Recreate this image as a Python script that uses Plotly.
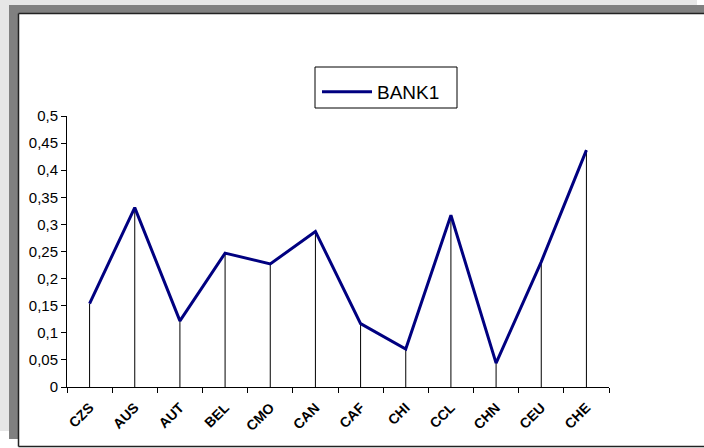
import plotly.graph_objects as go

# Series data
categories = ["CZS", "AUS", "AUT", "BEL", "CMO", "CAN", "CAF", "CHI", "CCL", "CHN", "CEU", "CHE"]
bank1 = [0.154, 0.331, 0.122, 0.247, 0.227, 0.287, 0.117, 0.070, 0.317, 0.044, 0.231, 0.437]
y_ticks = [0, 0.05, 0.1, 0.15, 0.2, 0.25, 0.3, 0.35, 0.4, 0.45, 0.5]

W, H = 704, 448
# plot-area box in pixels
L, R, T, B = 67, 609, 116, 387


def px(x):
    return (x - L) / (R - L)


def py(y):
    return (B - y) / (B - T)


# drop lines from each point down to the axis
drop_x, drop_y = [], []
for c, v in zip(categories, bank1):
    drop_x += [c, c, None]
    drop_y += [0, v, None]

fig = go.Figure()
fig.add_trace(go.Scatter(
    x=drop_x, y=drop_y, mode="lines",
    line=dict(color="black", width=1),
    showlegend=False, hoverinfo="skip", cliponaxis=False,
))
fig.add_trace(go.Scatter(
    x=categories, y=bank1, mode="lines", name="BANK1",
    line=dict(color="#000080", width=3),
    cliponaxis=False,
))

frame = dict(color="#222222", width=1.5)
shapes = [
    # light backdrop
    dict(type="rect", xref="paper", yref="paper", layer="below",
         x0=px(0), x1=px(697), y0=py(0), y1=py(431),
         fillcolor="#e6e6e6", line=dict(width=0)),
    # dark shadow
    dict(type="rect", xref="paper", yref="paper", layer="below",
         x0=px(9), x1=px(W), y0=py(5), y1=py(439),
         fillcolor="#808080", line=dict(width=0)),
    # chart area
    dict(type="rect", xref="paper", yref="paper", layer="below",
         x0=px(18.5), x1=px(W), y0=py(13.5), y1=py(446.5),
         fillcolor="white", line=dict(width=0)),
    # chart area edges: left, top, bottom
    dict(type="line", xref="paper", yref="paper", layer="below",
         x0=px(18.5), x1=px(18.5), y0=py(13.5), y1=py(446.5), line=frame),
    dict(type="line", xref="paper", yref="paper", layer="below",
         x0=px(18.5), x1=px(W), y0=py(13.5), y1=py(13.5), line=frame),
    dict(type="line", xref="paper", yref="paper", layer="below",
         x0=px(18.5), x1=px(W), y0=py(446.5), y1=py(446.5), line=frame),
    # legend frame
    dict(type="rect", xref="paper", yref="paper",
         x0=px(315), x1=px(457), y0=py(67), y1=py(108),
         fillcolor="rgba(0,0,0,0)", line=dict(color="black", width=1)),
]

fig.update_layout(
    width=W, height=H,
    margin=dict(l=L, r=W - R, t=T, b=H - B),
    paper_bgcolor="white",
    plot_bgcolor="rgba(0,0,0,0)",
    separators=", ",
    font=dict(family="Liberation Sans, Arial, sans-serif", color="black"),
    shapes=shapes,
    showlegend=True,
    legend=dict(
        x=px(317), y=py(73), xanchor="left", yanchor="top",
        bgcolor="rgba(0,0,0,0)", borderwidth=0,
        font=dict(size=19, family="Liberation Sans, Arial, sans-serif"),
        itemwidth=50,
    ),
    xaxis=dict(
        type="category", range=[-0.5, len(categories) - 0.5],
        showline=True, linecolor="black", linewidth=1,
        showgrid=False, zeroline=False,
        ticks="outside", ticklen=5, tickcolor="black", tickwidth=1,
        tickson="boundaries", tickangle=-45, ticklabelstandoff=6,
        tickfont=dict(size=14, family="Liberation Sans, Arial, sans-serif",
                      weight="bold"),
    ),
    yaxis=dict(
        range=[0, 0.5], tickvals=y_ticks,
        showline=True, linecolor="black", linewidth=1,
        showgrid=False, zeroline=False,
        ticks="outside", ticklen=5, tickcolor="black", tickwidth=1,
        tickfont=dict(size=15, family="Liberation Sans, Arial, sans-serif"),
    ),
)

fig.write_html("out.html")
